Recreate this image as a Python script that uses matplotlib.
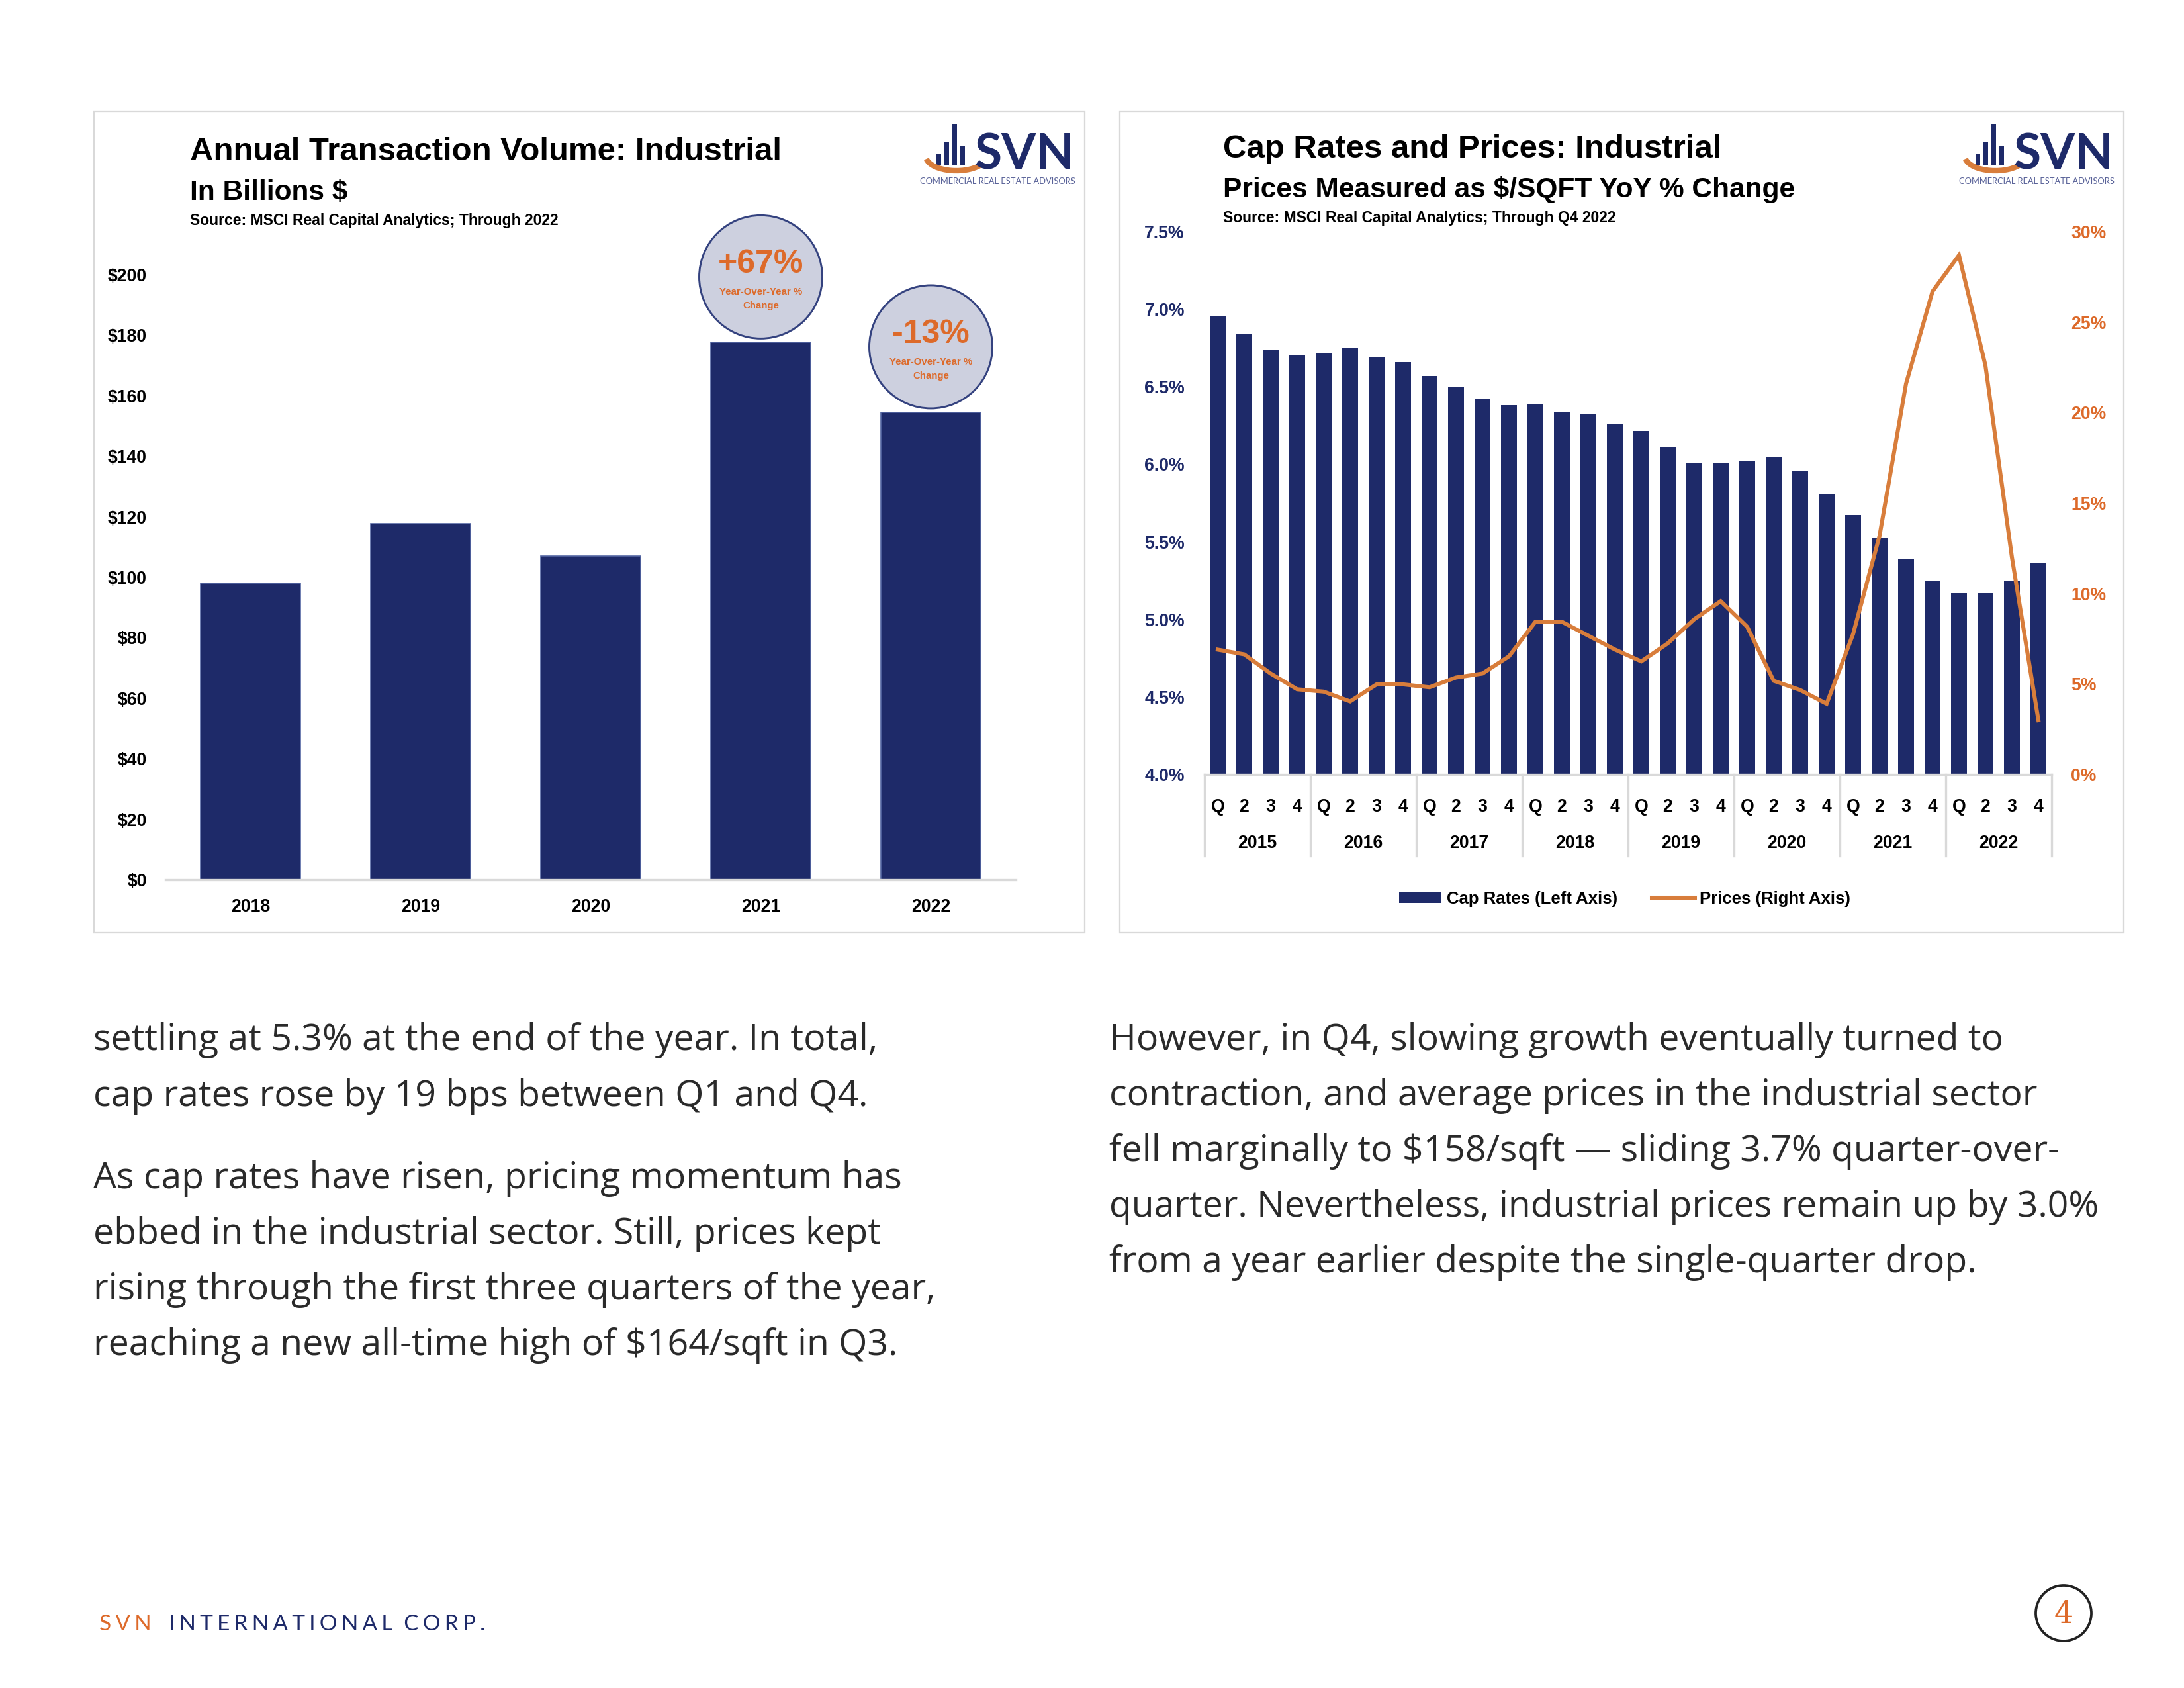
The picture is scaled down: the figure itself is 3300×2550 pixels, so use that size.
import numpy as np
import matplotlib
matplotlib.use("Agg")
import matplotlib.pyplot as plt
import matplotlib.transforms as mtransforms
from matplotlib.patches import Rectangle, Circle, Arc, Patch
from matplotlib.lines import Line2D

# ---- data ----
years = ['2018', '2019', '2020', '2021', '2022']
volume = [98.0, 117.8, 107.1, 177.6, 154.5]          # $ billions
vol_ticks = [0, 20, 40, 60, 80, 100, 120, 140, 160, 180, 200]
callout_idx = [3, 4]
callout_text = ['+67%', '-13%']

q_years = ['2015', '2016', '2017', '2018', '2019', '2020', '2021', '2022']
q_labels = ['Q', '2', '3', '4']
cap_rates = [6.96, 6.84, 6.735, 6.705,
             6.72, 6.75, 6.69, 6.66,
             6.57, 6.50, 6.42, 6.38,
             6.39, 6.335, 6.32, 6.26,
             6.215, 6.11, 6.005, 6.005,
             6.02, 6.05, 5.955, 5.81,
             5.675, 5.525, 5.39, 5.245,
             5.17, 5.17, 5.245, 5.36]
price_yoy = [6.9, 6.64, 5.58, 4.71,
             4.58, 4.04, 4.98, 4.98,
             4.82, 5.36, 5.58, 6.53,
             8.44, 8.44, 7.67, 6.91,
             6.25, 7.25, 8.58, 9.58,
             8.16, 5.18, 4.67, 3.91,
             7.76, 13.2, 21.6, 26.7,
             28.7, 22.6, 12.0, 3.0]
cap_ticks = [4.0, 4.5, 5.0, 5.5, 6.0, 6.5, 7.0, 7.5]
price_ticks = [0, 5, 10, 15, 20, 25, 30]

left_lines = ["settling at 5.3% at the end of the year. In total,",
              "cap rates rose by 19 bps between Q1 and Q4.",
              "As cap rates have risen, pricing momentum has",
              "ebbed in the industrial sector. Still, prices kept",
              "rising through the first three quarters of the year,",
              "reaching a new all-time high of $164/sqft in Q3."]
right_lines = ["However, in Q4, slowing growth eventually turned to",
               "contraction, and average prices in the industrial sector",
               "fell marginally to $158/sqft \u2014 sliding 3.7% quarter-over-",
               "quarter. Nevertheless, industrial prices remain up by 3.0%",
               "from a year earlier despite the single-quarter drop."]

# ---- style ----
W, H, DPI = 3300, 2550, 300
NAVY = '#1E2A69'
ORANGE = '#D87D3B'
ORANGE_TXT = '#DD6A2A'
GRID = '#D9D9D9'
BODY = ['Open Sans', 'DejaVu Sans']
LOGO = ['Lato', 'DejaVu Sans']
TICK = 6.4

plt.rcParams['font.family'] = ['Liberation Sans', 'DejaVu Sans']
plt.rcParams['font.weight'] = 'bold'

fig = plt.figure(figsize=(W / DPI, H / DPI), dpi=DPI)
fig.patch.set_facecolor('white')


def px_rect(x0, y0, x1, y1):
    return [x0 / W, 1 - y1 / H, (x1 - x0) / W, (y1 - y0) / H]


# background overlay in pixel coordinates (y down)
bg = fig.add_axes([0, 0, 1, 1], zorder=0)
bg.set_xlim(0, W)
bg.set_ylim(H, 0)
bg.axis('off')

for x0, x1 in [(142, 1639), (1692, 3209)]:
    bg.add_patch(Rectangle((x0, 168), x1 - x0, 1409 - 168, fill=False, ec=GRID, lw=0.55))

# titles
bg.text(287, 242, 'Annual Transaction Volume: Industrial', fontsize=11.8, va='baseline')
bg.text(287, 302, 'In Billions $', fontsize=10.2, va='baseline')
bg.text(287, 340, 'Source: MSCI Real Capital Analytics; Through 2022', fontsize=5.5, va='baseline')
bg.text(1848, 238, 'Cap Rates and Prices: Industrial', fontsize=11.8, va='baseline')
bg.text(1848, 298, 'Prices Measured as $/SQFT YoY % Change', fontsize=10.2, va='baseline')
bg.text(1848, 336, 'Source: MSCI Real Capital Analytics; Through Q4 2022', fontsize=5.5, va='baseline')


def svn_logo(rx):
    bg.text(rx, 256, 'SVN', ha='right', va='baseline', fontsize=18, color=NAVY,
            family=LOGO, weight='bold')
    bg.text(rx + 2, 278, 'COMMERCIAL REAL ESTATE ADVISORS', ha='right', va='baseline',
            fontsize=3.1, color='#5A6399', family=LOGO, weight='normal')
    ix = rx - 222
    for off, top in [(14, 232), (26, 214), (38, 188), (50, 220)]:
        bg.add_patch(Rectangle((ix + off, top), 7, 250 - top, color=NAVY, lw=0))
    bg.add_patch(Arc((ix + 44, 236), 92, 44, theta1=15, theta2=175, color=ORANGE, lw=2.0))


svn_logo(1623)
svn_logo(3193)

# ---- left chart: annual volume ----
ax1 = fig.add_axes(px_rect(250, 415, 1535, 1329), zorder=2)
ax1.set_facecolor('none')
x = np.arange(len(years))
ax1.bar(x, volume, width=0.59, color=NAVY, edgecolor='#5567A3', linewidth=0.4, zorder=2)
ax1.set_xlim(-0.5, 4.5)
ax1.set_ylim(0, 200)
ax1.set_yticks(vol_ticks)
ax1.set_yticklabels([f'${v}' for v in vol_ticks])
ax1.set_xticks(x)
ax1.set_xticklabels(years)
for s in ['top', 'right', 'left']:
    ax1.spines[s].set_visible(False)
ax1.spines['bottom'].set_color(GRID)
ax1.spines['bottom'].set_linewidth(0.8)
ax1.tick_params(length=0, labelsize=TICK, pad=6.7)

# ---- right chart: cap rates and prices ----
ax2 = fig.add_axes(px_rect(1820, 350, 3100, 1170), zorder=2)
ax2.set_facecolor('none')
q = np.arange(len(cap_rates))
ax2.bar(q, cap_rates, width=0.58, color=NAVY, zorder=2)
ax2.set_xlim(-0.5, len(cap_rates) - 0.5)
ax2.set_ylim(4.0, 7.5)
ax2.set_yticks(cap_ticks)
ax2.set_yticklabels([f'{t:.1f}%' for t in cap_ticks])
ax2.set_xticks(q)
ax2.set_xticklabels(q_labels * len(q_years))
for s in ['top', 'right', 'left']:
    ax2.spines[s].set_visible(False)
ax2.spines['bottom'].set_color(GRID)
ax2.spines['bottom'].set_linewidth(0.8)
ax2.tick_params(axis='y', length=0, labelsize=TICK, pad=7.2, labelcolor=NAVY)
ax2.tick_params(axis='x', length=0, labelsize=TICK, pad=8.6)

ax3 = ax2.twinx()
ax3.plot(q, price_yoy, color=ORANGE, lw=1.45, solid_joinstyle='miter')
ax3.set_ylim(0, 30)
ax3.set_yticks(price_ticks)
ax3.set_yticklabels([f'{t}%' for t in price_ticks])
for s in ax3.spines.values():
    s.set_visible(False)
ax3.tick_params(axis='y', length=0, labelsize=TICK, pad=7.0, labelcolor=ORANGE_TXT)

trans = mtransforms.blended_transform_factory(ax2.transData, ax2.transAxes)
for k, yr in enumerate(q_years):
    ax2.text(4 * k + 1.5, -0.127, yr, transform=trans, ha='center', va='center', fontsize=TICK)
for k in range(len(q_years) + 1):
    ax2.plot([4 * k - 0.5] * 2, [0, -0.15], transform=trans, color=GRID, lw=0.8, clip_on=False)

fig.legend(handles=[Patch(facecolor=NAVY), Line2D([], [], color=ORANGE, lw=1.45)],
           labels=['Cap Rates (Left Axis)', 'Prices (Right Axis)'],
           loc='center', bbox_to_anchor=(2455 / W, 1 - 1358 / H), ncol=2, frameon=False,
           fontsize=6.2, handlelength=2.5, handleheight=0.6, handletextpad=0.3, columnspacing=2.0)

# ---- callout circles above 2021 / 2022 bars ----
fg = fig.add_axes([0, 0, 1, 1], zorder=5)
fg.set_xlim(0, W)
fg.set_ylim(H, 0)
fg.axis('off')
R = 93
for i, txt in zip(callout_idx, callout_text):
    dx, dy = ax1.transData.transform((i, volume[i]))
    cx, cy = dx, H - dy - 6 - R
    fg.add_patch(Circle((cx, cy), R, fc='#CDD0DF', ec='#34427F', lw=0.7))
    fg.text(cx, cy - 19, txt, ha='center', va='center', fontsize=12, color=ORANGE_TXT)
    fg.text(cx, cy + 23, 'Year-Over-Year %', ha='center', va='center', fontsize=3.6, color=ORANGE_TXT)
    fg.text(cx, cy + 44, 'Change', ha='center', va='center', fontsize=3.6, color=ORANGE_TXT)

# ---- body text ----
left_base = [1586, 1671, 1795, 1879, 1963, 2047]
for yb, line in zip(left_base, left_lines):
    bg.text(141, yb, line, va='baseline', fontsize=13.3, color='#2A2A2A',
            family=BODY, weight='normal')
for i, line in enumerate(right_lines):
    bg.text(1676, 1586 + i * 84, line, va='baseline', fontsize=13.3, color='#2A2A2A',
            family=BODY, weight='normal')

# ---- footer ----
sp = '\u2009\u200a'
bg.text(150, 2463, sp.join('SVN'), va='baseline', fontsize=8, color=ORANGE_TXT,
        family=LOGO, weight='normal')
bg.text(255, 2463, sp.join('INTERNATIONAL') + '\u2002' + sp.join('CORP.'),
        va='baseline', fontsize=8, color=NAVY, family=LOGO, weight='normal')
bg.add_patch(Circle((3118, 2437), 42, fill=False, ec='#222222', lw=0.9))
bg.text(3118, 2439, '4', ha='center', va='center', fontsize=11, color=ORANGE_TXT,
        family=['DejaVu Serif'], weight='normal')

fig.savefig('out.png', dpi=DPI)
